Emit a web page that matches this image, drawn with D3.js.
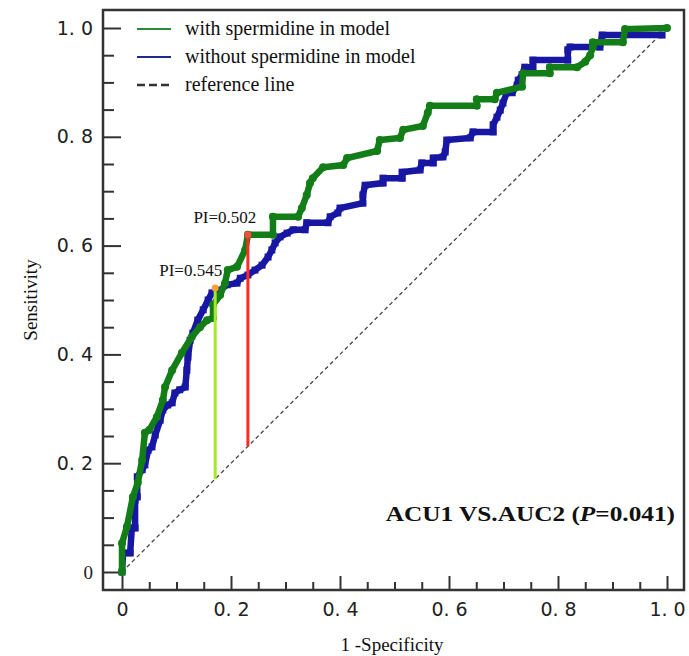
<!DOCTYPE html>
<html>
<head>
<meta charset="utf-8">
<script src="https://cdn.jsdelivr.net/npm/d3@7"></script>
<style>
  body { margin: 0; background: #fff; }
  svg { display: block; }
</style>
</head>
<body>
<div id="chart-area"></div>
<script>
// ROC curves, with / without spermidine

var width = 689, height = 656;

// [1 - specificity, sensitivity] vertices
var withSpermidine = [
  [0, 0], [0, 0.053], [0.009, 0.083], [0.020, 0.138], [0.029, 0.164], [0.037, 0.206],
  [0.042, 0.256], [0.050, 0.261], [0.064, 0.285], [0.075, 0.316], [0.079, 0.340],
  [0.092, 0.371], [0.110, 0.403], [0.128, 0.432], [0.143, 0.450], [0.156, 0.463],
  [0.167, 0.467], [0.167, 0.491], [0.180, 0.509], [0.189, 0.531], [0.194, 0.555],
  [0.211, 0.561], [0.226, 0.592], [0.231, 0.620], [0.277, 0.620], [0.277, 0.653],
  [0.323, 0.653], [0.330, 0.669], [0.339, 0.693], [0.345, 0.715], [0.350, 0.724],
  [0.369, 0.744], [0.406, 0.748], [0.413, 0.761], [0.468, 0.774], [0.473, 0.794],
  [0.510, 0.798], [0.516, 0.813], [0.552, 0.820], [0.561, 0.844], [0.565, 0.857],
  [0.651, 0.857], [0.651, 0.869], [0.684, 0.869], [0.688, 0.881], [0.734, 0.892],
  [0.736, 0.917], [0.785, 0.917], [0.785, 0.928], [0.835, 0.928], [0.850, 0.938],
  [0.859, 0.950], [0.864, 0.965], [0.864, 0.974], [0.919, 0.974], [0.923, 0.998],
  [1.0, 1.0]
];

var withoutSpermidine = [
  [0, 0], [0.002, 0.035], [0.015, 0.035], [0.018, 0.081], [0.024, 0.081], [0.024, 0.132],
  [0.028, 0.138], [0.028, 0.175], [0.037, 0.188], [0.042, 0.197], [0.048, 0.224],
  [0.055, 0.230], [0.061, 0.252], [0.070, 0.279], [0.075, 0.298], [0.084, 0.307],
  [0.092, 0.311], [0.097, 0.329], [0.106, 0.335], [0.116, 0.340], [0.119, 0.371],
  [0.121, 0.395], [0.125, 0.426], [0.130, 0.439], [0.139, 0.463], [0.149, 0.482],
  [0.158, 0.500], [0.165, 0.513], [0.180, 0.518], [0.193, 0.528], [0.211, 0.531],
  [0.217, 0.540], [0.231, 0.546], [0.244, 0.555], [0.257, 0.564], [0.268, 0.579],
  [0.275, 0.592], [0.281, 0.605], [0.290, 0.616], [0.303, 0.623], [0.314, 0.629],
  [0.336, 0.629], [0.339, 0.642], [0.378, 0.642], [0.382, 0.653], [0.396, 0.660],
  [0.400, 0.669], [0.442, 0.678], [0.442, 0.693], [0.446, 0.711], [0.479, 0.715],
  [0.479, 0.724], [0.514, 0.724], [0.514, 0.735], [0.547, 0.739], [0.550, 0.752],
  [0.571, 0.752], [0.571, 0.761], [0.589, 0.763], [0.593, 0.772], [0.596, 0.794],
  [0.639, 0.798], [0.644, 0.809], [0.681, 0.809], [0.681, 0.822], [0.688, 0.836],
  [0.694, 0.849], [0.699, 0.862], [0.706, 0.881], [0.716, 0.881], [0.725, 0.895],
  [0.727, 0.904], [0.734, 0.914], [0.739, 0.928], [0.754, 0.928], [0.754, 0.941],
  [0.818, 0.941], [0.818, 0.960], [0.822, 0.965], [0.877, 0.965], [0.881, 0.987],
  [0.991, 0.987]
];

var referenceLine = [[0, 0], [0.99, 0.99]];

// cut-off points (PI) : [fpr, tpr]
var cutoffs = [
  { label: "PI=0.502", point: [0.231, 0.620], color: "#ff2a22", dot: "#ff4a40" },
  { label: "PI=0.545", point: [0.171, 0.522], color: "#a6e82a", dot: "#f5a030" }
];

var majorTicks = [0, 0.2, 0.4, 0.6, 0.8, 1.0];
var minorTicks = d3.range(1, 20).map(i => i / 20).filter(v => Math.round(v * 20) % 4 != 0);

var legendItems = [
  { name: "with spermidine in model", color: "#2a8a3a", dash: null },
  { name: "without spermidine in model", color: "#1e2a8a", dash: null },
  { name: "reference line", color: "#333", dash: "8,4" }
];

var greenColor = "#137d17", blueColor = "#1717a3";

var frame = { left: 103, top: 10, right: 684, bottom: 590 };

var x = d3.scaleLinear().domain([0, 1]).range([122, 667]);
var y = d3.scaleLinear().domain([0, 1]).range([572, 28]);

var svg = d3.select("#chart-area")
    .append("svg")
        .attr("width", width)
        .attr("height", height);

svg.append("rect")
    .attr("width", width).attr("height", height)
    .attr("fill", "#fff");

function fmt(d) {
    if (d == 0) return "0";
    return d.toFixed(1).replace(".", ". ");
}

// axes (ticks point inward)
var xAxisG = svg.append("g")
    .attr("transform", "translate(0," + frame.bottom + ")");
xAxisG.append("g")
    .call(d3.axisBottom(x).tickValues(minorTicks).tickSize(-8).tickFormat(""));
xAxisG.append("g")
    .call(d3.axisBottom(x).tickValues(majorTicks).tickSize(-14).tickPadding(13).tickFormat(fmt));

var yAxisG = svg.append("g")
    .attr("transform", "translate(" + frame.left + ",0)");
yAxisG.append("g")
    .call(d3.axisLeft(y).tickValues(minorTicks).tickSize(-11).tickFormat(""));
yAxisG.append("g")
    .call(d3.axisLeft(y).tickValues(majorTicks).tickSize(-18).tickPadding(10).tickFormat(fmt));

svg.selectAll(".domain").remove();
svg.selectAll(".tick line")
    .attr("stroke", "#333")
    .attr("stroke-width", 2);
svg.selectAll(".tick text")
    .attr("fill", "#222")
    .style("font-family", "'DejaVu Sans', sans-serif")
    .style("font-size", "19px");
// the y zero label is set in a serif face in the original
yAxisG.selectAll(".tick text")
    .filter(d => d == 0)
    .style("font-family", "'Liberation Serif', serif");

// frame
svg.append("rect")
    .attr("x", frame.left).attr("y", frame.top)
    .attr("width", frame.right - frame.left)
    .attr("height", frame.bottom - frame.top)
    .attr("fill", "none")
    .attr("stroke", "#333")
    .attr("stroke-width", 2.5);

var line = d3.line()
    .x(d => x(d[0]))
    .y(d => y(d[1]));

// reference diagonal
svg.append("path")
    .datum(referenceLine)
    .attr("d", line)
    .attr("fill", "none")
    .attr("stroke", "#444")
    .attr("stroke-width", 1.3)
    .attr("stroke-dasharray", "4,3");

// without spermidine (blue squares)
svg.append("path")
    .datum(withoutSpermidine)
    .attr("d", line)
    .attr("fill", "none")
    .attr("stroke", blueColor)
    .attr("stroke-width", 6.5);
svg.append("g").selectAll("rect")
    .data(withoutSpermidine)
    .join("rect")
        .attr("x", d => x(d[0]) - 3.5)
        .attr("y", d => y(d[1]) - 3.5)
        .attr("width", 7).attr("height", 7)
        .attr("fill", blueColor);

// with spermidine (green circles)
svg.append("path")
    .datum(withSpermidine)
    .attr("d", line)
    .attr("fill", "none")
    .attr("stroke", greenColor)
    .attr("stroke-width", 6.5);
svg.append("g").selectAll("circle")
    .data(withSpermidine)
    .join("circle")
        .attr("cx", d => x(d[0]))
        .attr("cy", d => y(d[1]))
        .attr("r", 4)
        .attr("fill", greenColor);

// cut-off lines down to the diagonal
cutoffs.forEach(function(c) {
    svg.append("line")
        .attr("x1", x(c.point[0])).attr("x2", x(c.point[0]))
        .attr("y1", y(c.point[1])).attr("y2", y(c.point[0]))
        .attr("stroke", c.color)
        .attr("stroke-width", 3);
    svg.append("circle")
        .attr("cx", x(c.point[0])).attr("cy", y(c.point[1]))
        .attr("r", 3.5)
        .attr("fill", c.dot);
});

var serif = "'Liberation Serif', 'Times New Roman', serif";

svg.append("text")
    .attr("x", x(cutoffs[0].point[0]) - 23)
    .attr("y", y(cutoffs[0].point[1]) - 12)
    .attr("text-anchor", "middle")
    .style("font-family", serif).style("font-size", "17px")
    .attr("fill", "#111")
    .text(cutoffs[0].label);

svg.append("text")
    .attr("x", x(cutoffs[1].point[0]) + 7)
    .attr("y", y(cutoffs[1].point[1]) - 12)
    .attr("text-anchor", "end")
    .style("font-family", serif).style("font-size", "17px")
    .attr("fill", "#111")
    .text(cutoffs[1].label);

// legend
var legend = svg.append("g");
legendItems.forEach(function(item, i) {
    var row = legend.append("g")
        .attr("transform", "translate(0," + (29 + i * 28) + ")");
    row.append("line")
        .attr("x1", 137).attr("x2", 171)
        .attr("stroke", item.color)
        .attr("stroke-width", item.dash ? 2.5 : 2.2)
        .attr("stroke-dasharray", item.dash);
    row.append("text")
        .attr("x", 185)
        .attr("dy", "0.32em")
        .style("font-family", serif).style("font-size", "20px")
        .attr("fill", "#111")
        .text(item.name);
});

// comparison note (the original type is slightly stretched)
var note = svg.append("text")
    .attr("transform", "translate(675,513) scale(1.15,1)")
    .attr("dy", "0.35em")
    .attr("text-anchor", "end")
    .style("font-family", serif).style("font-size", "22px")
    .style("font-weight", "bold")
    .attr("fill", "#111");
note.append("tspan").text("ACU1 VS.AUC2 (");
note.append("tspan").style("font-style", "italic").text("P");
note.append("tspan").text("=0.041)");

// axis titles
svg.append("text")
    .attr("transform", "translate(37,300) rotate(-90)")
    .attr("text-anchor", "middle")
    .style("font-family", serif).style("font-size", "19px")
    .attr("fill", "#111")
    .text("Sensitivity");

svg.append("text")
    .attr("x", 392).attr("y", 651)
    .attr("text-anchor", "middle")
    .style("font-family", serif).style("font-size", "19px")
    .attr("fill", "#111")
    .text("1 -Specificity");
</script>
</body>
</html>
